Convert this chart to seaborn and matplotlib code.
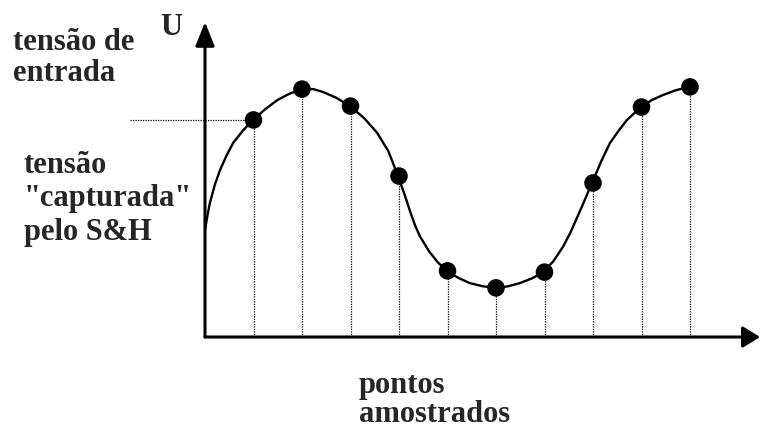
import matplotlib
matplotlib.use('Agg')
from matplotlib import pyplot as plt
import pandas as pd
import seaborn as sns

# sampled points (x = sample number, y = captured voltage)
sample_x = [1, 2, 3, 4, 5, 6, 7, 8, 9, 10]
sample_u = [6.89, 7.87, 7.33, 5.11, 2.10, 1.56, 2.06, 4.89, 7.30, 7.94]

# input voltage curve
curve_x = [0.0, 0.05, 0.10, 0.20, 0.31, 0.44, 0.58, 0.78, 0.99, 1.24, 1.49, 1.75, 2.02,
           2.23, 2.43, 2.70, 2.99, 3.28, 3.55, 3.78, 3.98, 4.12, 4.23, 4.33, 4.43, 4.62, 4.80,
           4.99, 5.22, 5.46, 5.73, 6.00, 6.25, 6.49, 6.74, 6.97, 7.18, 7.38, 7.53, 7.76,
           7.98, 8.17, 8.35, 8.53, 8.70, 8.99, 9.21, 9.44, 9.70, 9.98]
curve_u = [3.40, 3.85, 4.25, 4.82, 5.30, 5.75, 6.16, 6.55, 6.89, 7.23, 7.52, 7.73, 7.87,
           7.87, 7.78, 7.60, 7.33, 6.95, 6.48, 5.90, 5.11, 4.50, 3.98, 3.55, 3.20, 2.72, 2.37,
           2.10, 1.88, 1.71, 1.61, 1.56, 1.61, 1.71, 1.86, 2.06, 2.40, 2.86, 3.30, 4.10,
           4.89, 5.58, 6.16, 6.55, 6.89, 7.30, 7.52, 7.68, 7.83, 7.94]

held_level = sample_u[0]

sns.set_style('white')
plt.rcParams['font.family'] = ['Liberation Serif', 'DejaVu Serif']

W, H = 761, 434
fig = plt.figure(figsize=(W / 100, H / 100), dpi=100)
ax = fig.add_axes([205 / W, (H - 337) / H, 555 / W, 315 / H])
ax.set_xlim(0, 555 / 48.5)
ax.set_ylim(0, 10)
for s in ax.spines.values():
    s.set_visible(False)
ax.set_xticks([])
ax.set_yticks([])

dots = (0, (1, 1))
ax.vlines(sample_x, 0, sample_u, colors='black', linestyles=[dots], linewidth=0.9)
ax.plot([-1.55, sample_x[0]], [held_level, held_level], color='black',
        linestyle=dots, linewidth=0.9, clip_on=False)

curve = pd.DataFrame({'x': curve_x, 'u': curve_u})
sns.lineplot(data=curve, x='x', y='u', ax=ax, color='black', linewidth=1.7,
             sort=False, estimator=None)
pts = pd.DataFrame({'x': sample_x, 'u': sample_u})
sns.scatterplot(data=pts, x='x', y='u', ax=ax, color='black', s=160,
                edgecolor='none', zorder=5)
ax.set_xlabel('')
ax.set_ylabel('')

# axes with arrow heads
ax.annotate('', xy=(0, 1), xytext=(0, 0), xycoords='axes fraction',
            arrowprops=dict(arrowstyle='-|>,head_length=1.45,head_width=0.58',
                            color='black', linewidth=2.2, shrinkA=0, shrinkB=0),
            annotation_clip=False)
ax.annotate('', xy=(1, 0), xytext=(0, 0), xycoords='axes fraction',
            arrowprops=dict(arrowstyle='-|>,head_length=1.05,head_width=0.65',
                            color='black', linewidth=2.2, shrinkA=0, shrinkB=0),
            annotation_clip=False)

font = dict(fontsize=22, fontweight='bold', ha='left', va='top')
fig.text(160 / W, 1 - 13 / H, 'U', linespacing=1.05, **font)
fig.text(13 / W, 1 - 28 / H, 'tensão de\nentrada', linespacing=1.08, **font)
fig.text(24 / W, 1 - 151 / H, 'tensão\n"capturada"\npelo S&H', linespacing=1.2,
         **font)
fig.text(359 / W, 1 - 371 / H, 'pontos\namostrados', linespacing=1.0, **font)

fig.savefig('out.png', dpi=100, facecolor='white')
